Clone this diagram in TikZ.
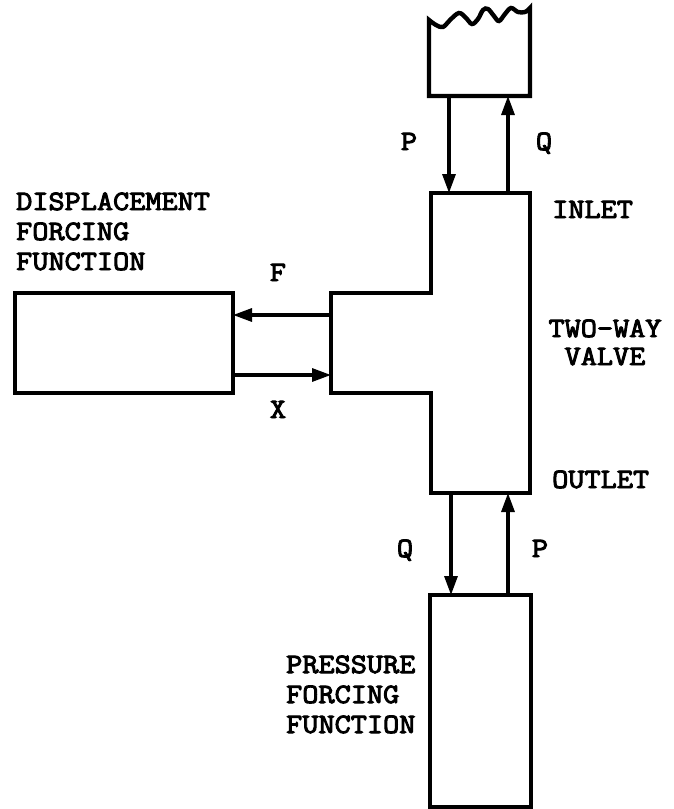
\documentclass[tikz,border=0pt]{standalone}
\usepackage{fontspec}
\newfontfamily\labfont{Latin Modern Mono}[FakeBold=3.5,FakeStretch=1.12]
\usetikzlibrary{arrows.meta}
\begin{document}
\begin{tikzpicture}[x=1pt,y=-1pt,
  box/.style={draw,line width=4.4pt,inner sep=0pt,outer sep=0pt},
  edge/.style={line width=4.4pt,line join=miter},
  arr/.style={line width=3.2pt,-{Triangle[length=19pt,width=13pt]}},
  lab/.style={font=\fontsize{28}{30}\selectfont\labfont,inner sep=0pt}]
\useasboundingbox (0,0) rectangle (673,809);
% top reservoir (wavy top)
\coordinate (tl) at (429,96);
\coordinate (tr) at (530,96);
\draw[edge] (429,20) plot[smooth,tension=0.6] coordinates {(429,20) (436,25) (443,27) (450,20) (459,13) (466,18) (472,24) (478,19) (483,10) (488,9) (494,16) (499,21) (505,14) (511,8) (518,12) (525,12) (530,8)} -- (tr) -- (tl) -- cycle;
% two-way valve (T shape)
\coordinate (vtl) at (431,193);
\coordinate (vtr) at (530,193);
\coordinate (vbr) at (530,493);
\coordinate (vbl) at (431,493);
\coordinate (vpt) at (331,293);
\coordinate (vpb) at (331,393);
\draw[edge] (vtl) -- (vtr) -- (vbr) -- (vbl) -- (431,393) -- (vpb) -- (vpt) -- (431,293) -- cycle;
% displacement forcing function box
\node[box,minimum width=218pt,minimum height=100pt] (disp) at (124,343) {};
% pressure forcing function box
\node[box,minimum width=101pt,minimum height=212pt] (press) at (480.5,701) {};
% connectors
\coordinate (p1) at (449,96);
\coordinate (q1) at (508,96);
\draw[arr] (p1) -- (p1 |- vtl);
\draw[arr] (q1 |- vtl) -- (q1);
\coordinate (f1) at (331,315);
\coordinate (x1) at (331,375);
\draw[arr] (f1) -- (f1 -| disp.east);
\draw[arr] (x1 -| disp.east) -- (x1);
\coordinate (q2) at (451,493);
\coordinate (p2) at (508,493);
\draw[arr] (q2) -- (q2 |- press.north);
\draw[arr] (p2 |- press.north) -- (p2);
% labels
\node[lab,anchor=base] (lP1) at (409,150) {P};
\node[lab,anchor=base] (lQ1) at (544,150) {Q};
\node[lab,anchor=base west] (lin) at (552,218) {INLET};
\node[lab,anchor=base] (ltw) at (605,337) {TWO-WAY};
\node[lab,anchor=base] (lva) at (605,365) {VALVE};
\node[lab,anchor=base west] (lout) at (552,488) {OUTLET};
\node[lab,anchor=base] (lQ2) at (405,557) {Q};
\node[lab,anchor=base] (lP2) at (540,557) {P};
\node[lab,anchor=base] (lF) at (278,281) {F};
\node[lab,anchor=base] (lX) at (278,418) {X};
\node[lab,anchor=base west] (ld1) at (16,210) {DISPLACEMENT};
\node[lab,anchor=base west] (ld2) at (16,240) {FORCING};
\node[lab,anchor=base west] (ld3) at (16,270) {FUNCTION};
\node[lab,anchor=base west] (lp1) at (286,673) {PRESSURE};
\node[lab,anchor=base west] (lp2) at (286,703) {FORCING};
\node[lab,anchor=base west] (lp3) at (286,733) {FUNCTION};
\end{tikzpicture}
\end{document}
